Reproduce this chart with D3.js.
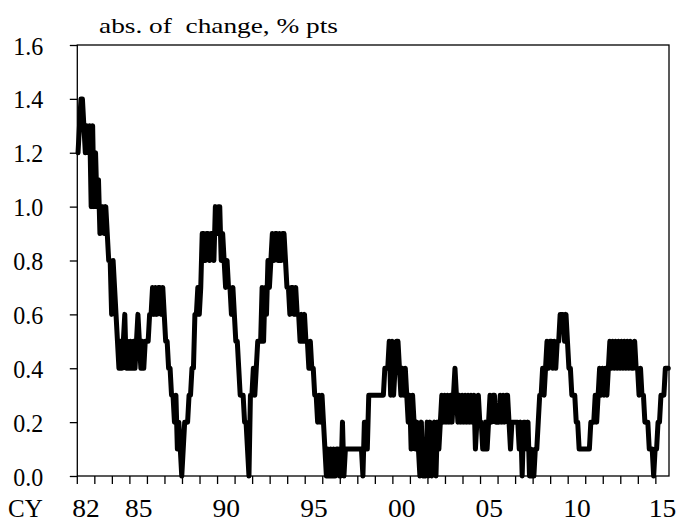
<!DOCTYPE html>
<html>
<head>
<meta charset="utf-8">
<script src="https://cdn.jsdelivr.net/npm/d3@7"></script>
<style>
  body { margin: 0; background: #fff; }
  svg { display: block; }
  svg text { font-family: "Liberation Serif", "Tinos", "Times New Roman", "DejaVu Serif", serif; fill: #000; }
</style>
</head>
<body>
<svg></svg>
<script>
const start_year = 1982;

// yearly tick labels (only some years labelled)
const label_years = [1982, 1985, 1990, 1995, 2000, 2005, 2010, 2015];
const tick_labels = ["82", "85", "90", "95", "00", "05", "10", "15"];
const y_ticks = [0, 0.2, 0.4, 0.6, 0.8, 1.0, 1.2, 1.4, 1.6];

// monthly values, Jan 1982 - Sep 2015
const values = [
  1.2, 1.3, 1.4, 1.4, 1.3, 1.2, 1.3, 1.2, 1.3, 1.0, 1.3, 1.0, // 82
  1.2, 1.0, 1.1, 0.9, 1.0, 1.0, 0.9, 1.0, 0.9, 0.8, 0.8, 0.6, // 83
  0.8, 0.7, 0.6, 0.5, 0.4, 0.5, 0.4, 0.5, 0.6, 0.4, 0.5, 0.4, // 84
  0.5, 0.4, 0.5, 0.4, 0.5, 0.6, 0.5, 0.4, 0.5, 0.4, 0.5, 0.5, // 85
  0.5, 0.6, 0.6, 0.7, 0.6, 0.7, 0.6, 0.7, 0.7, 0.6, 0.7, 0.6, // 86
  0.5, 0.5, 0.4, 0.4, 0.3, 0.3, 0.2, 0.3, 0.1, 0.2, 0.1, 0.0, // 87
  0.1, 0.2, 0.2, 0.2, 0.3, 0.3, 0.4, 0.4, 0.6, 0.6, 0.7, 0.6, // 88
  0.7, 0.9, 0.9, 0.8, 0.9, 0.9, 0.8, 0.9, 0.9, 0.8, 1.0, 0.9, // 89
  1.0, 1.0, 0.8, 0.9, 0.8, 0.7, 0.8, 0.7, 0.7, 0.6, 0.7, 0.6, // 90
  0.5, 0.5, 0.4, 0.3, 0.3, 0.3, 0.2, 0.2, 0.1, 0.0, 0.3, 0.3, // 91
  0.4, 0.3, 0.4, 0.5, 0.5, 0.5, 0.7, 0.5, 0.7, 0.6, 0.8, 0.7, // 92
  0.8, 0.9, 0.8, 0.9, 0.9, 0.8, 0.9, 0.8, 0.9, 0.9, 0.8, 0.7, // 93
  0.7, 0.6, 0.7, 0.7, 0.6, 0.7, 0.6, 0.6, 0.5, 0.6, 0.5, 0.6, // 94
  0.5, 0.5, 0.4, 0.5, 0.4, 0.4, 0.3, 0.3, 0.2, 0.3, 0.2, 0.3, // 95
  0.2, 0.1, 0.0, 0.1, 0.0, 0.1, 0.0, 0.1, 0.0, 0.1, 0.1, 0.0, // 96
  0.0, 0.2, 0.0, 0.1, 0.1, 0.1, 0.1, 0.1, 0.1, 0.1, 0.1, 0.1, // 97
  0.1, 0.1, 0.1, 0.0, 0.2, 0.2, 0.1, 0.3, 0.3, 0.3, 0.3, 0.3, // 98
  0.3, 0.3, 0.3, 0.3, 0.3, 0.3, 0.4, 0.4, 0.4, 0.5, 0.3, 0.5, // 99
  0.3, 0.4, 0.5, 0.5, 0.4, 0.3, 0.4, 0.3, 0.4, 0.3, 0.2, 0.3, // 00
  0.1, 0.3, 0.2, 0.1, 0.2, 0.1, 0.0, 0.2, 0.0, 0.1, 0.0, 0.2, // 01
  0.0, 0.2, 0.0, 0.1, 0.2, 0.0, 0.2, 0.1, 0.2, 0.3, 0.2, 0.3, // 02
  0.2, 0.3, 0.2, 0.3, 0.2, 0.3, 0.4, 0.3, 0.2, 0.3, 0.2, 0.3, // 03
  0.2, 0.3, 0.2, 0.3, 0.2, 0.3, 0.2, 0.3, 0.1, 0.2, 0.3, 0.2, // 04
  0.2, 0.1, 0.1, 0.2, 0.1, 0.2, 0.3, 0.2, 0.3, 0.3, 0.2, 0.2, // 05
  0.2, 0.3, 0.2, 0.3, 0.2, 0.3, 0.3, 0.2, 0.1, 0.2, 0.2, 0.2, // 06
  0.2, 0.2, 0.1, 0.2, 0.0, 0.2, 0.2, 0.1, 0.2, 0.0, 0.1, 0.0, // 07
  0.0, 0.1, 0.1, 0.2, 0.3, 0.3, 0.4, 0.3, 0.4, 0.5, 0.4, 0.5, // 08
  0.5, 0.4, 0.5, 0.4, 0.5, 0.5, 0.6, 0.6, 0.6, 0.5, 0.6, 0.5, // 09
  0.4, 0.4, 0.3, 0.3, 0.3, 0.2, 0.2, 0.1, 0.1, 0.1, 0.1, 0.1, // 10
  0.1, 0.1, 0.1, 0.2, 0.2, 0.2, 0.3, 0.2, 0.3, 0.4, 0.3, 0.4, // 11
  0.3, 0.4, 0.3, 0.4, 0.5, 0.4, 0.5, 0.4, 0.5, 0.4, 0.5, 0.4, // 12
  0.5, 0.4, 0.5, 0.4, 0.5, 0.4, 0.5, 0.4, 0.4, 0.5, 0.4, 0.4, // 13
  0.3, 0.4, 0.3, 0.3, 0.2, 0.2, 0.2, 0.1, 0.1, 0.1, 0.0, 0.1, // 14
  0.1, 0.2, 0.2, 0.3, 0.3, 0.3, 0.4, 0.4, 0.4               // 15
];

let width = 678,
  height = 524;
const plot_left = 77.3,
  plot_right = 669,
  plot_top = 45,
  plot_bottom = 476;
const font_size = 25;

let svg = d3.select("svg").attr("width", width).attr("height", height);

const n = values.length;
let x = d3.scaleLinear().domain([0, n]).range([plot_left, plot_right]);
let y = d3.scaleLinear().domain([0, 1.6]).range([plot_bottom, plot_top]);

// plot frame
svg
  .append("rect")
  .attr("x", plot_left)
  .attr("y", plot_top)
  .attr("width", plot_right - plot_left)
  .attr("height", plot_bottom - plot_top)
  .attr("fill", "none")
  .attr("stroke", "#000")
  .attr("stroke-width", 1.3);

// y axis
let yAxis = d3
  .axisLeft(y)
  .tickValues(y_ticks)
  .tickSize(7.5)
  .tickFormat(d3.format(".1f"));
let gy = svg
  .append("g")
  .attr("transform", `translate(${plot_left},0)`)
  .call(yAxis);
gy.attr("font-family", null).attr("font-size", null);
gy.select(".domain").remove();
gy.selectAll("line").attr("stroke", "#000").attr("stroke-width", 1.3);
gy.selectAll("text")
  .attr("x", null)
  .attr("dy", null)
  .attr("y", null)
  .attr("transform", "translate(-34,9) scale(0.96,1)")
  .style("font-size", font_size + "px");

// x axis, tick every 12 months
const year_ticks = d3.range(0, n, 12);
let gx = svg.append("g").attr("transform", `translate(0,${plot_bottom})`);
gx.selectAll("line")
  .data(year_ticks)
  .enter()
  .append("line")
  .attr("x1", (d) => x(d))
  .attr("x2", (d) => x(d))
  .attr("y1", 0)
  .attr("y2", 8)
  .attr("stroke", "#000")
  .attr("stroke-width", 1.3);

gx.selectAll("text")
  .data(label_years)
  .enter()
  .append("text")
  .attr("transform", (d) => {
    const a = x((d - start_year) * 12);
    const b = Math.min(x((d - start_year + 1) * 12), plot_right);
    return `translate(${(a + b) / 2},41) scale(1.1,1)`;
  })
  .attr("text-anchor", "middle")
  .style("font-size", font_size + "px")
  .text((d, i) => tick_labels[i]);

svg
  .append("text")
  .attr("x", 8)
  .attr("y", plot_bottom + 41)
  .style("font-size", font_size + "px")
  .text("CY");

// title
svg
  .append("text")
  .attr("x", 99)
  .attr("y", 33)
  .attr("textLength", 239)
  .attr("lengthAdjust", "spacingAndGlyphs")
  .style("font-size", "21.5px")
  .style("white-space", "pre")
  .text("abs. of  change, % pts");

// series
let line = d3
  .line()
  .x((d, i) => x(i + 0.5))
  .y((d) => y(d));

svg
  .append("path")
  .datum(values)
  .attr("d", line)
  .attr("fill", "none")
  .attr("stroke", "#000")
  .attr("stroke-width", 5)
  .attr("stroke-linejoin", "round")
  .attr("stroke-linecap", "round");
</script>
</body>
</html>
